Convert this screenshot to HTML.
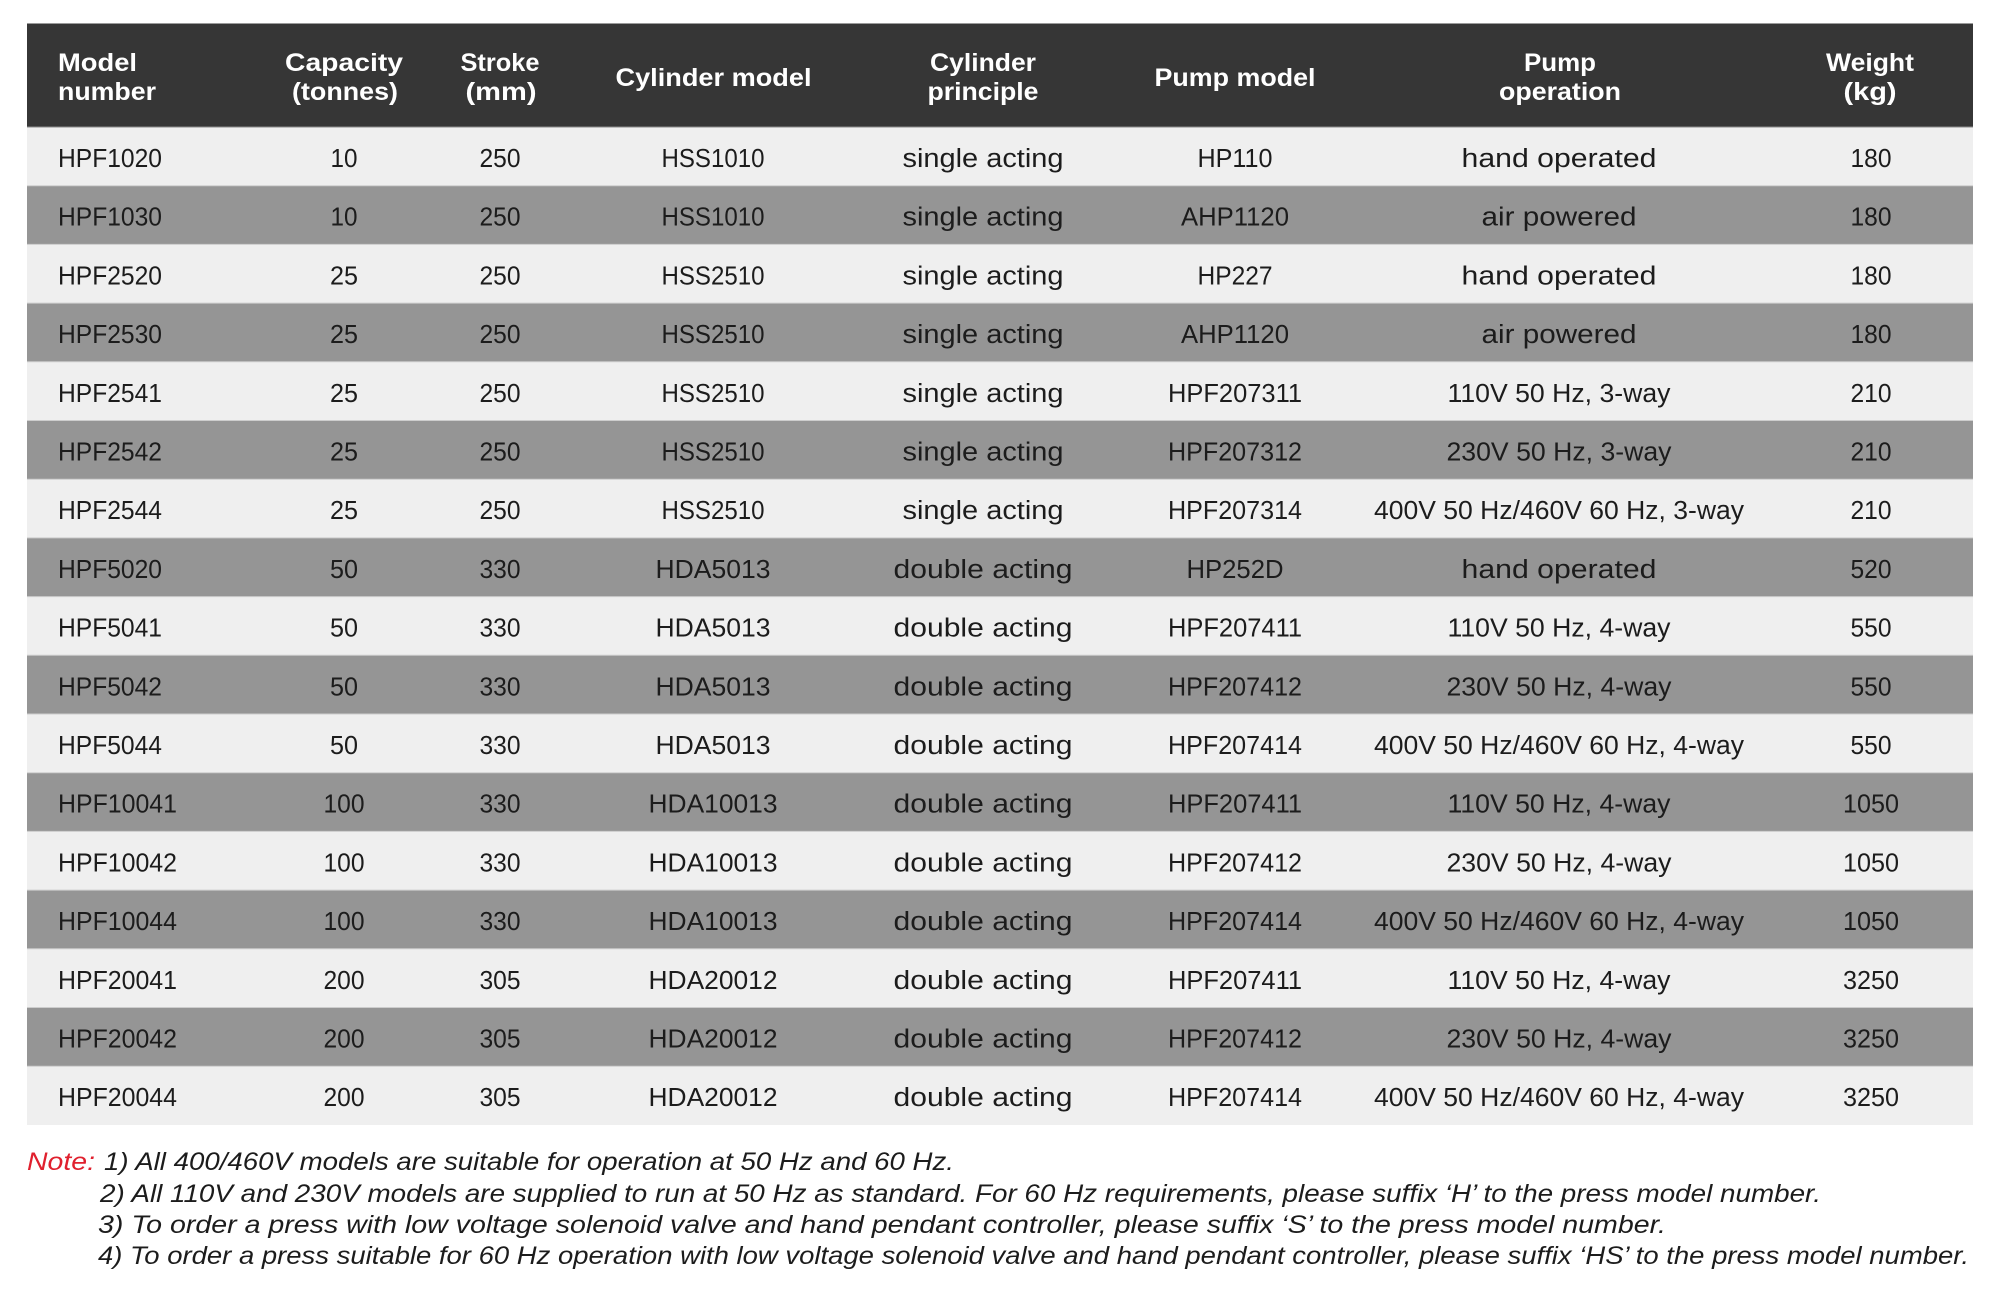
<!DOCTYPE html>
<html>
<head>
<meta charset="utf-8">
<style>
html,body{margin:0;padding:0;background:#fff;}
svg{display:block;}
.h{font-family:"Liberation Sans",Arial,sans-serif;font-weight:bold;font-size:25px;fill:#fff;}
.b{font-family:"Liberation Sans",Arial,sans-serif;font-size:25.5px;fill:#1c1c1c;}
.n{font-family:"Liberation Sans",Arial,sans-serif;font-style:italic;font-size:25px;fill:#1c1c1c;}
.r{fill:#e0202e;}
</style>
</head>
<body>
<svg width="2000" height="1304" viewBox="0 0 2000 1304" xmlns="http://www.w3.org/2000/svg">
<rect x="0" y="0" width="2000" height="1304" fill="#fff"/>
<!-- header -->
<rect x="27" y="24" width="1946" height="103" fill="#363636"/>
<line x1="27" y1="23.5" x2="1973" y2="23.5" stroke="#9a9a9a" stroke-width="1"/>
<g class="h">
<text x="58" y="71" textLength="79" lengthAdjust="spacingAndGlyphs">Model</text>
<text x="58" y="100" textLength="98" lengthAdjust="spacingAndGlyphs">number</text>
<text x="344" y="71" text-anchor="middle" textLength="118" lengthAdjust="spacingAndGlyphs">Capacity</text>
<text x="345" y="100" text-anchor="middle" textLength="106" lengthAdjust="spacingAndGlyphs">(tonnes)</text>
<text x="500" y="71" text-anchor="middle" textLength="79" lengthAdjust="spacingAndGlyphs">Stroke</text>
<text x="501" y="100" text-anchor="middle" textLength="71" lengthAdjust="spacingAndGlyphs">(mm)</text>
<text x="713.5" y="86" text-anchor="middle" textLength="196" lengthAdjust="spacingAndGlyphs">Cylinder model</text>
<text x="983" y="71" text-anchor="middle" textLength="106" lengthAdjust="spacingAndGlyphs">Cylinder</text>
<text x="983" y="100" text-anchor="middle" textLength="111" lengthAdjust="spacingAndGlyphs">principle</text>
<text x="1235" y="86" text-anchor="middle" textLength="161" lengthAdjust="spacingAndGlyphs">Pump model</text>
<text x="1560" y="71" text-anchor="middle" textLength="72" lengthAdjust="spacingAndGlyphs">Pump</text>
<text x="1560" y="100" text-anchor="middle" textLength="122" lengthAdjust="spacingAndGlyphs">operation</text>
<text x="1870" y="71" text-anchor="middle" textLength="88" lengthAdjust="spacingAndGlyphs">Weight</text>
<text x="1870" y="100" text-anchor="middle" textLength="53" lengthAdjust="spacingAndGlyphs">(kg)</text>
</g>

<!-- row backgrounds -->
<rect x="27" y="127" width="1946" height="58.7" fill="#efefef"/>
<rect x="27" y="185.7" width="1946" height="58.7" fill="#959595"/>
<rect x="27" y="244.4" width="1946" height="58.7" fill="#efefef"/>
<rect x="27" y="303.1" width="1946" height="58.7" fill="#959595"/>
<rect x="27" y="361.8" width="1946" height="58.7" fill="#efefef"/>
<rect x="27" y="420.5" width="1946" height="58.7" fill="#959595"/>
<rect x="27" y="479.2" width="1946" height="58.7" fill="#efefef"/>
<rect x="27" y="537.9" width="1946" height="58.7" fill="#959595"/>
<rect x="27" y="596.6" width="1946" height="58.7" fill="#efefef"/>
<rect x="27" y="655.3" width="1946" height="58.7" fill="#959595"/>
<rect x="27" y="714" width="1946" height="58.7" fill="#efefef"/>
<rect x="27" y="772.7" width="1946" height="58.7" fill="#959595"/>
<rect x="27" y="831.4" width="1946" height="58.7" fill="#efefef"/>
<rect x="27" y="890.1" width="1946" height="58.7" fill="#959595"/>
<rect x="27" y="948.8" width="1946" height="58.7" fill="#efefef"/>
<rect x="27" y="1007.5" width="1946" height="58.7" fill="#959595"/>
<rect x="27" y="1066.2" width="1946" height="58.8" fill="#efefef"/>

<!-- separators -->
<g stroke="#cdcdcd" stroke-width="1">
<line x1="27" y1="127" x2="1973" y2="127" stroke="#8a8a8a"/>
<line x1="27" y1="185.7" x2="1973" y2="185.7"/>
<line x1="27" y1="244.4" x2="1973" y2="244.4"/>
<line x1="27" y1="303.1" x2="1973" y2="303.1"/>
<line x1="27" y1="361.8" x2="1973" y2="361.8"/>
<line x1="27" y1="420.5" x2="1973" y2="420.5"/>
<line x1="27" y1="479.2" x2="1973" y2="479.2"/>
<line x1="27" y1="537.9" x2="1973" y2="537.9"/>
<line x1="27" y1="596.6" x2="1973" y2="596.6"/>
<line x1="27" y1="655.3" x2="1973" y2="655.3"/>
<line x1="27" y1="714" x2="1973" y2="714"/>
<line x1="27" y1="772.7" x2="1973" y2="772.7"/>
<line x1="27" y1="831.4" x2="1973" y2="831.4"/>
<line x1="27" y1="890.1" x2="1973" y2="890.1"/>
<line x1="27" y1="948.8" x2="1973" y2="948.8"/>
<line x1="27" y1="1007.5" x2="1973" y2="1007.5"/>
<line x1="27" y1="1066.2" x2="1973" y2="1066.2"/>
</g>

<g class="b">
<!-- row 1 -->
<g transform="translate(0,167)">
<text x="58" y="0" textLength="104" lengthAdjust="spacingAndGlyphs">HPF1020</text>
<text x="344" y="0" text-anchor="middle" textLength="27" lengthAdjust="spacingAndGlyphs">10</text>
<text x="500" y="0" text-anchor="middle" textLength="41" lengthAdjust="spacingAndGlyphs">250</text>
<text x="713" y="0" text-anchor="middle" textLength="103" lengthAdjust="spacingAndGlyphs">HSS1010</text>
<text x="983" y="0" text-anchor="middle" textLength="161" lengthAdjust="spacingAndGlyphs">single acting</text>
<text x="1235" y="0" text-anchor="middle" textLength="75" lengthAdjust="spacingAndGlyphs">HP110</text>
<text x="1559" y="0" text-anchor="middle" textLength="195" lengthAdjust="spacingAndGlyphs">hand operated</text>
<text x="1871" y="0" text-anchor="middle" textLength="41" lengthAdjust="spacingAndGlyphs">180</text>
</g>
<!-- row 2 -->
<g transform="translate(0,225.7)">
<text x="58" y="0" textLength="104" lengthAdjust="spacingAndGlyphs">HPF1030</text>
<text x="344" y="0" text-anchor="middle" textLength="27" lengthAdjust="spacingAndGlyphs">10</text>
<text x="500" y="0" text-anchor="middle" textLength="41" lengthAdjust="spacingAndGlyphs">250</text>
<text x="713" y="0" text-anchor="middle" textLength="103" lengthAdjust="spacingAndGlyphs">HSS1010</text>
<text x="983" y="0" text-anchor="middle" textLength="161" lengthAdjust="spacingAndGlyphs">single acting</text>
<text x="1235" y="0" text-anchor="middle" textLength="108" lengthAdjust="spacingAndGlyphs">AHP1120</text>
<text x="1559" y="0" text-anchor="middle" textLength="155" lengthAdjust="spacingAndGlyphs">air powered</text>
<text x="1871" y="0" text-anchor="middle" textLength="41" lengthAdjust="spacingAndGlyphs">180</text>
</g>
<!-- row 3 -->
<g transform="translate(0,284.4)">
<text x="58" y="0" textLength="104" lengthAdjust="spacingAndGlyphs">HPF2520</text>
<text x="344" y="0" text-anchor="middle" textLength="28" lengthAdjust="spacingAndGlyphs">25</text>
<text x="500" y="0" text-anchor="middle" textLength="41" lengthAdjust="spacingAndGlyphs">250</text>
<text x="713" y="0" text-anchor="middle" textLength="103" lengthAdjust="spacingAndGlyphs">HSS2510</text>
<text x="983" y="0" text-anchor="middle" textLength="161" lengthAdjust="spacingAndGlyphs">single acting</text>
<text x="1235" y="0" text-anchor="middle" textLength="75" lengthAdjust="spacingAndGlyphs">HP227</text>
<text x="1559" y="0" text-anchor="middle" textLength="195" lengthAdjust="spacingAndGlyphs">hand operated</text>
<text x="1871" y="0" text-anchor="middle" textLength="41" lengthAdjust="spacingAndGlyphs">180</text>
</g>
<!-- row 4 -->
<g transform="translate(0,343.1)">
<text x="58" y="0" textLength="104" lengthAdjust="spacingAndGlyphs">HPF2530</text>
<text x="344" y="0" text-anchor="middle" textLength="28" lengthAdjust="spacingAndGlyphs">25</text>
<text x="500" y="0" text-anchor="middle" textLength="41" lengthAdjust="spacingAndGlyphs">250</text>
<text x="713" y="0" text-anchor="middle" textLength="103" lengthAdjust="spacingAndGlyphs">HSS2510</text>
<text x="983" y="0" text-anchor="middle" textLength="161" lengthAdjust="spacingAndGlyphs">single acting</text>
<text x="1235" y="0" text-anchor="middle" textLength="108" lengthAdjust="spacingAndGlyphs">AHP1120</text>
<text x="1559" y="0" text-anchor="middle" textLength="155" lengthAdjust="spacingAndGlyphs">air powered</text>
<text x="1871" y="0" text-anchor="middle" textLength="41" lengthAdjust="spacingAndGlyphs">180</text>
</g>
<!-- row 5 -->
<g transform="translate(0,401.8)">
<text x="58" y="0" textLength="104" lengthAdjust="spacingAndGlyphs">HPF2541</text>
<text x="344" y="0" text-anchor="middle" textLength="28" lengthAdjust="spacingAndGlyphs">25</text>
<text x="500" y="0" text-anchor="middle" textLength="41" lengthAdjust="spacingAndGlyphs">250</text>
<text x="713" y="0" text-anchor="middle" textLength="103" lengthAdjust="spacingAndGlyphs">HSS2510</text>
<text x="983" y="0" text-anchor="middle" textLength="161" lengthAdjust="spacingAndGlyphs">single acting</text>
<text x="1235" y="0" text-anchor="middle" textLength="134" lengthAdjust="spacingAndGlyphs">HPF207311</text>
<text x="1559" y="0" text-anchor="middle" textLength="223" lengthAdjust="spacingAndGlyphs">110V 50 Hz, 3-way</text>
<text x="1871" y="0" text-anchor="middle" textLength="41" lengthAdjust="spacingAndGlyphs">210</text>
</g>
<!-- row 6 -->
<g transform="translate(0,460.5)">
<text x="58" y="0" textLength="104" lengthAdjust="spacingAndGlyphs">HPF2542</text>
<text x="344" y="0" text-anchor="middle" textLength="28" lengthAdjust="spacingAndGlyphs">25</text>
<text x="500" y="0" text-anchor="middle" textLength="41" lengthAdjust="spacingAndGlyphs">250</text>
<text x="713" y="0" text-anchor="middle" textLength="103" lengthAdjust="spacingAndGlyphs">HSS2510</text>
<text x="983" y="0" text-anchor="middle" textLength="161" lengthAdjust="spacingAndGlyphs">single acting</text>
<text x="1235" y="0" text-anchor="middle" textLength="134" lengthAdjust="spacingAndGlyphs">HPF207312</text>
<text x="1559" y="0" text-anchor="middle" textLength="225" lengthAdjust="spacingAndGlyphs">230V 50 Hz, 3-way</text>
<text x="1871" y="0" text-anchor="middle" textLength="41" lengthAdjust="spacingAndGlyphs">210</text>
</g>
<!-- row 7 -->
<g transform="translate(0,519.2)">
<text x="58" y="0" textLength="104" lengthAdjust="spacingAndGlyphs">HPF2544</text>
<text x="344" y="0" text-anchor="middle" textLength="28" lengthAdjust="spacingAndGlyphs">25</text>
<text x="500" y="0" text-anchor="middle" textLength="41" lengthAdjust="spacingAndGlyphs">250</text>
<text x="713" y="0" text-anchor="middle" textLength="103" lengthAdjust="spacingAndGlyphs">HSS2510</text>
<text x="983" y="0" text-anchor="middle" textLength="161" lengthAdjust="spacingAndGlyphs">single acting</text>
<text x="1235" y="0" text-anchor="middle" textLength="134" lengthAdjust="spacingAndGlyphs">HPF207314</text>
<text x="1559" y="0" text-anchor="middle" textLength="370" lengthAdjust="spacingAndGlyphs">400V 50 Hz/460V 60 Hz, 3-way</text>
<text x="1871" y="0" text-anchor="middle" textLength="41" lengthAdjust="spacingAndGlyphs">210</text>
</g>
<!-- row 8 -->
<g transform="translate(0,577.9)">
<text x="58" y="0" textLength="104" lengthAdjust="spacingAndGlyphs">HPF5020</text>
<text x="344" y="0" text-anchor="middle" textLength="28" lengthAdjust="spacingAndGlyphs">50</text>
<text x="500" y="0" text-anchor="middle" textLength="41" lengthAdjust="spacingAndGlyphs">330</text>
<text x="713" y="0" text-anchor="middle" textLength="115" lengthAdjust="spacingAndGlyphs">HDA5013</text>
<text x="983" y="0" text-anchor="middle" textLength="179" lengthAdjust="spacingAndGlyphs">double acting</text>
<text x="1235" y="0" text-anchor="middle" textLength="97" lengthAdjust="spacingAndGlyphs">HP252D</text>
<text x="1559" y="0" text-anchor="middle" textLength="195" lengthAdjust="spacingAndGlyphs">hand operated</text>
<text x="1871" y="0" text-anchor="middle" textLength="41" lengthAdjust="spacingAndGlyphs">520</text>
</g>
<!-- row 9 -->
<g transform="translate(0,636.6)">
<text x="58" y="0" textLength="104" lengthAdjust="spacingAndGlyphs">HPF5041</text>
<text x="344" y="0" text-anchor="middle" textLength="28" lengthAdjust="spacingAndGlyphs">50</text>
<text x="500" y="0" text-anchor="middle" textLength="41" lengthAdjust="spacingAndGlyphs">330</text>
<text x="713" y="0" text-anchor="middle" textLength="115" lengthAdjust="spacingAndGlyphs">HDA5013</text>
<text x="983" y="0" text-anchor="middle" textLength="179" lengthAdjust="spacingAndGlyphs">double acting</text>
<text x="1235" y="0" text-anchor="middle" textLength="134" lengthAdjust="spacingAndGlyphs">HPF207411</text>
<text x="1559" y="0" text-anchor="middle" textLength="223" lengthAdjust="spacingAndGlyphs">110V 50 Hz, 4-way</text>
<text x="1871" y="0" text-anchor="middle" textLength="41" lengthAdjust="spacingAndGlyphs">550</text>
</g>
<!-- row 10 -->
<g transform="translate(0,695.3)">
<text x="58" y="0" textLength="104" lengthAdjust="spacingAndGlyphs">HPF5042</text>
<text x="344" y="0" text-anchor="middle" textLength="28" lengthAdjust="spacingAndGlyphs">50</text>
<text x="500" y="0" text-anchor="middle" textLength="41" lengthAdjust="spacingAndGlyphs">330</text>
<text x="713" y="0" text-anchor="middle" textLength="115" lengthAdjust="spacingAndGlyphs">HDA5013</text>
<text x="983" y="0" text-anchor="middle" textLength="179" lengthAdjust="spacingAndGlyphs">double acting</text>
<text x="1235" y="0" text-anchor="middle" textLength="134" lengthAdjust="spacingAndGlyphs">HPF207412</text>
<text x="1559" y="0" text-anchor="middle" textLength="225" lengthAdjust="spacingAndGlyphs">230V 50 Hz, 4-way</text>
<text x="1871" y="0" text-anchor="middle" textLength="41" lengthAdjust="spacingAndGlyphs">550</text>
</g>
<!-- row 11 -->
<g transform="translate(0,754)">
<text x="58" y="0" textLength="104" lengthAdjust="spacingAndGlyphs">HPF5044</text>
<text x="344" y="0" text-anchor="middle" textLength="28" lengthAdjust="spacingAndGlyphs">50</text>
<text x="500" y="0" text-anchor="middle" textLength="41" lengthAdjust="spacingAndGlyphs">330</text>
<text x="713" y="0" text-anchor="middle" textLength="115" lengthAdjust="spacingAndGlyphs">HDA5013</text>
<text x="983" y="0" text-anchor="middle" textLength="179" lengthAdjust="spacingAndGlyphs">double acting</text>
<text x="1235" y="0" text-anchor="middle" textLength="134" lengthAdjust="spacingAndGlyphs">HPF207414</text>
<text x="1559" y="0" text-anchor="middle" textLength="370" lengthAdjust="spacingAndGlyphs">400V 50 Hz/460V 60 Hz, 4-way</text>
<text x="1871" y="0" text-anchor="middle" textLength="41" lengthAdjust="spacingAndGlyphs">550</text>
</g>
<!-- row 12 -->
<g transform="translate(0,812.7)">
<text x="58" y="0" textLength="119" lengthAdjust="spacingAndGlyphs">HPF10041</text>
<text x="344" y="0" text-anchor="middle" textLength="41" lengthAdjust="spacingAndGlyphs">100</text>
<text x="500" y="0" text-anchor="middle" textLength="41" lengthAdjust="spacingAndGlyphs">330</text>
<text x="713" y="0" text-anchor="middle" textLength="129" lengthAdjust="spacingAndGlyphs">HDA10013</text>
<text x="983" y="0" text-anchor="middle" textLength="179" lengthAdjust="spacingAndGlyphs">double acting</text>
<text x="1235" y="0" text-anchor="middle" textLength="134" lengthAdjust="spacingAndGlyphs">HPF207411</text>
<text x="1559" y="0" text-anchor="middle" textLength="223" lengthAdjust="spacingAndGlyphs">110V 50 Hz, 4-way</text>
<text x="1871" y="0" text-anchor="middle" textLength="56" lengthAdjust="spacingAndGlyphs">1050</text>
</g>
<!-- row 13 -->
<g transform="translate(0,871.4)">
<text x="58" y="0" textLength="119" lengthAdjust="spacingAndGlyphs">HPF10042</text>
<text x="344" y="0" text-anchor="middle" textLength="41" lengthAdjust="spacingAndGlyphs">100</text>
<text x="500" y="0" text-anchor="middle" textLength="41" lengthAdjust="spacingAndGlyphs">330</text>
<text x="713" y="0" text-anchor="middle" textLength="129" lengthAdjust="spacingAndGlyphs">HDA10013</text>
<text x="983" y="0" text-anchor="middle" textLength="179" lengthAdjust="spacingAndGlyphs">double acting</text>
<text x="1235" y="0" text-anchor="middle" textLength="134" lengthAdjust="spacingAndGlyphs">HPF207412</text>
<text x="1559" y="0" text-anchor="middle" textLength="225" lengthAdjust="spacingAndGlyphs">230V 50 Hz, 4-way</text>
<text x="1871" y="0" text-anchor="middle" textLength="56" lengthAdjust="spacingAndGlyphs">1050</text>
</g>
<!-- row 14 -->
<g transform="translate(0,930.1)">
<text x="58" y="0" textLength="119" lengthAdjust="spacingAndGlyphs">HPF10044</text>
<text x="344" y="0" text-anchor="middle" textLength="41" lengthAdjust="spacingAndGlyphs">100</text>
<text x="500" y="0" text-anchor="middle" textLength="41" lengthAdjust="spacingAndGlyphs">330</text>
<text x="713" y="0" text-anchor="middle" textLength="129" lengthAdjust="spacingAndGlyphs">HDA10013</text>
<text x="983" y="0" text-anchor="middle" textLength="179" lengthAdjust="spacingAndGlyphs">double acting</text>
<text x="1235" y="0" text-anchor="middle" textLength="134" lengthAdjust="spacingAndGlyphs">HPF207414</text>
<text x="1559" y="0" text-anchor="middle" textLength="370" lengthAdjust="spacingAndGlyphs">400V 50 Hz/460V 60 Hz, 4-way</text>
<text x="1871" y="0" text-anchor="middle" textLength="56" lengthAdjust="spacingAndGlyphs">1050</text>
</g>
<!-- row 15 -->
<g transform="translate(0,988.8)">
<text x="58" y="0" textLength="119" lengthAdjust="spacingAndGlyphs">HPF20041</text>
<text x="344" y="0" text-anchor="middle" textLength="41" lengthAdjust="spacingAndGlyphs">200</text>
<text x="500" y="0" text-anchor="middle" textLength="41" lengthAdjust="spacingAndGlyphs">305</text>
<text x="713" y="0" text-anchor="middle" textLength="129" lengthAdjust="spacingAndGlyphs">HDA20012</text>
<text x="983" y="0" text-anchor="middle" textLength="179" lengthAdjust="spacingAndGlyphs">double acting</text>
<text x="1235" y="0" text-anchor="middle" textLength="134" lengthAdjust="spacingAndGlyphs">HPF207411</text>
<text x="1559" y="0" text-anchor="middle" textLength="223" lengthAdjust="spacingAndGlyphs">110V 50 Hz, 4-way</text>
<text x="1871" y="0" text-anchor="middle" textLength="56" lengthAdjust="spacingAndGlyphs">3250</text>
</g>
<!-- row 16 -->
<g transform="translate(0,1047.5)">
<text x="58" y="0" textLength="119" lengthAdjust="spacingAndGlyphs">HPF20042</text>
<text x="344" y="0" text-anchor="middle" textLength="41" lengthAdjust="spacingAndGlyphs">200</text>
<text x="500" y="0" text-anchor="middle" textLength="41" lengthAdjust="spacingAndGlyphs">305</text>
<text x="713" y="0" text-anchor="middle" textLength="129" lengthAdjust="spacingAndGlyphs">HDA20012</text>
<text x="983" y="0" text-anchor="middle" textLength="179" lengthAdjust="spacingAndGlyphs">double acting</text>
<text x="1235" y="0" text-anchor="middle" textLength="134" lengthAdjust="spacingAndGlyphs">HPF207412</text>
<text x="1559" y="0" text-anchor="middle" textLength="225" lengthAdjust="spacingAndGlyphs">230V 50 Hz, 4-way</text>
<text x="1871" y="0" text-anchor="middle" textLength="56" lengthAdjust="spacingAndGlyphs">3250</text>
</g>
<!-- row 17 -->
<g transform="translate(0,1106.2)">
<text x="58" y="0" textLength="119" lengthAdjust="spacingAndGlyphs">HPF20044</text>
<text x="344" y="0" text-anchor="middle" textLength="41" lengthAdjust="spacingAndGlyphs">200</text>
<text x="500" y="0" text-anchor="middle" textLength="41" lengthAdjust="spacingAndGlyphs">305</text>
<text x="713" y="0" text-anchor="middle" textLength="129" lengthAdjust="spacingAndGlyphs">HDA20012</text>
<text x="983" y="0" text-anchor="middle" textLength="179" lengthAdjust="spacingAndGlyphs">double acting</text>
<text x="1235" y="0" text-anchor="middle" textLength="134" lengthAdjust="spacingAndGlyphs">HPF207414</text>
<text x="1559" y="0" text-anchor="middle" textLength="370" lengthAdjust="spacingAndGlyphs">400V 50 Hz/460V 60 Hz, 4-way</text>
<text x="1871" y="0" text-anchor="middle" textLength="56" lengthAdjust="spacingAndGlyphs">3250</text>
</g>
</g>

<!-- notes -->
<g class="n">
<text x="27" y="1170" class="n r" textLength="68" lengthAdjust="spacingAndGlyphs">Note:</text>
<text x="104" y="1170" textLength="850" lengthAdjust="spacingAndGlyphs">1) All 400/460V models are suitable for operation at 50 Hz and 60 Hz.</text>
<text x="100" y="1202" textLength="1721" lengthAdjust="spacingAndGlyphs">2) All 110V and 230V models are supplied to run at 50 Hz as standard. For 60 Hz requirements, please suffix ‘H’ to the press model number.</text>
<text x="98" y="1233" textLength="1568" lengthAdjust="spacingAndGlyphs">3) To order a press with low voltage solenoid valve and hand pendant controller, please suffix ‘S’ to the press model number.</text>
<text x="98" y="1264" textLength="1871" lengthAdjust="spacingAndGlyphs">4) To order a press suitable for 60 Hz operation with low voltage solenoid valve and hand pendant controller, please suffix ‘HS’ to the press model number.</text>
</g>
</svg>
</body>
</html>
